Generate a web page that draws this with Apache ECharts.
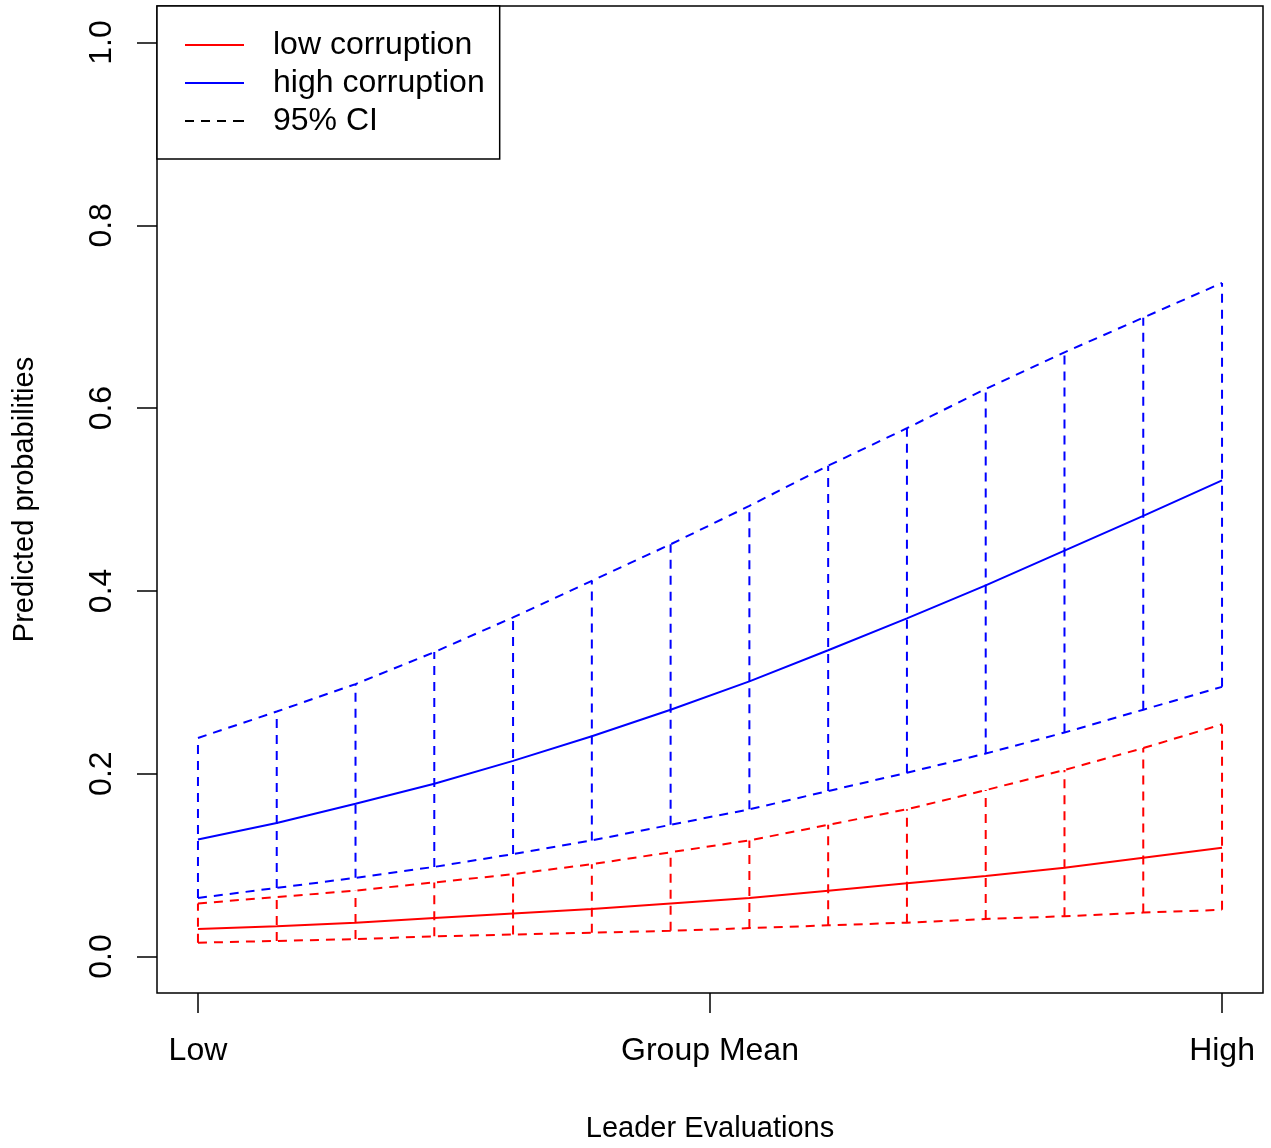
<!DOCTYPE html>
<html>
<head>
<meta charset="UTF-8">
<title>Predicted probabilities</title>
<style>
html,body{margin:0;padding:0;background:#fff;}
#main{width:1271px;height:1148px;}
</style>
</head>
<body>
<div id="main"></div>
<script src="https://cdn.jsdelivr.net/npm/echarts@6/dist/echarts.min.js"></script>
<script>
// x positions (Low .. High), tick labels
var xPos = [0,1,2,3,4,5,6,7,8,9,10,11,12,13];
var xTickVals = [0, 6.5, 13];
var xTickLabels = ['Low', 'Group Mean', 'High'];
var yTickVals = [0, 0.2, 0.4, 0.6, 0.8, 1.0];

// low corruption
var redMean  = [0.030,0.033,0.037,0.042,0.047,0.052,0.058,0.064,0.072,0.080,0.088,0.097,0.108,0.119];
var redUpper = [0.058,0.065,0.072,0.081,0.090,0.101,0.114,0.127,0.144,0.161,0.182,0.204,0.228,0.254];
var redLower = [0.015,0.017,0.019,0.022,0.024,0.026,0.028,0.031,0.034,0.037,0.041,0.044,0.048,0.051];

// high corruption
var blueMean  = [0.128,0.146,0.167,0.189,0.214,0.241,0.270,0.301,0.335,0.370,0.406,0.444,0.482,0.521];
var blueUpper = [0.239,0.268,0.298,0.333,0.371,0.411,0.451,0.493,0.537,0.578,0.621,0.661,0.699,0.737];
var blueLower = [0.064,0.075,0.086,0.098,0.112,0.127,0.144,0.161,0.181,0.201,0.222,0.245,0.270,0.295];

var FONT = "'Liberation Sans', Arial, Helvetica, sans-serif";
var DASH = [9, 7];

function pts(ys){
	return xPos.map(function(x, i){ return [x, ys[i]]; });
}
function bars(lo, hi){
	return xPos.map(function(x, i){ return [x, lo[i], hi[i]]; });
}

function lineSeries(name, ys, color, dashed){
	return {
		name: name,
		type: 'line',
		data: pts(ys),
		symbol: 'none',
		smooth: false,
		silent: true,
		lineStyle: {color: color, width: 2, type: dashed ? DASH : 'solid'},
		itemStyle: {color: color}
	};
}

// vertical dashed segments lower -> upper
function ciSeries(lo, hi, color){
	return {
		type: 'custom',
		silent: true,
		data: bars(lo, hi),
		encode: {x: 0, y: [1, 2]},
		renderItem: function(params, api){
			var p1 = api.coord([api.value(0), api.value(1)]);
			var p2 = api.coord([api.value(0), api.value(2)]);
			return {
				type: 'line',
				shape: {x1: p1[0], y1: p1[1], x2: p2[0], y2: p2[1]},
				style: {stroke: color, lineWidth: 2, lineDash: DASH, fill: null}
			};
		}
	};
}

var myChart = echarts.init(document.getElementById('main'));

myChart.setOption({
	animation: false,
	backgroundColor: '#fff',
	textStyle: {fontFamily: FONT, color: '#000'},
	grid: {
		left: 157, top: 6, right: 8, height: 991,
		show: true, borderColor: '#000', borderWidth: 1.5, backgroundColor: 'transparent'
	},
	legend: {
		left: 157, top: 6,
		orient: 'vertical',
		backgroundColor: '#fff',
		borderColor: '#000', borderWidth: 1.5, borderRadius: 0,
		padding: [20, 15, 19, 28],
		itemGap: 0,
		itemWidth: 59, itemHeight: 2,
		selectedMode: false,
		textStyle: {fontSize: 32, fontFamily: FONT, color: '#000', lineHeight: 38, padding: [0, 0, 0, 24]},
		data: [
			{name: 'low corruption', icon: 'path://M0 0h59v2h-59z'},
			{name: 'high corruption', icon: 'path://M0 0h59v2h-59z'},
			{name: '95% CI', icon: 'path://M0 0h9v2h-9z M16 0h9v2h-9z M32 0h9v2h-9z M48 0h11v2h-11z'}
		]
	},
	xAxis: {
		type: 'value',
		min: -0.52, max: 13.52,
		name: 'Leader Evaluations',
		nameLocation: 'middle',
		nameGap: 121,
		nameTextStyle: {fontSize: 29, fontFamily: FONT, color: '#000'},
		splitLine: {show: false},
		axisLine: {show: false, onZero: false},
		axisTick: {show: true, inside: false, length: 20, customValues: xTickVals, lineStyle: {color: '#000', width: 1.5}},
		axisLabel: {
			customValues: xTickVals,
			margin: 42,
			fontSize: 32, fontFamily: FONT, color: '#000',
			formatter: function(v){
				var i = xTickVals.indexOf(v);
				return i >= 0 ? xTickLabels[i] : '';
			}
		}
	},
	yAxis: {
		type: 'value',
		min: -0.04, max: 1.04,
		name: 'Predicted probabilities',
		nameLocation: 'middle',
		nameRotate: 90,
		nameGap: 118,
		nameTextStyle: {fontSize: 29, fontFamily: FONT, color: '#000'},
		splitLine: {show: false},
		axisLine: {show: false, onZero: false},
		axisTick: {show: true, inside: false, length: 20, customValues: yTickVals, lineStyle: {color: '#000', width: 1.5}},
		axisLabel: {
			customValues: yTickVals,
			rotate: 90,
			margin: 39,
			fontSize: 32, fontFamily: FONT, color: '#000',
			formatter: function(v){ return v.toFixed(1); }
		}
	},
	series: [
		lineSeries('low corruption', redMean, '#ff0000', false),
		lineSeries('high corruption', blueMean, '#0000ff', false),
		lineSeries(null, redUpper, '#ff0000', true),
		lineSeries(null, redLower, '#ff0000', true),
		lineSeries(null, blueUpper, '#0000ff', true),
		lineSeries(null, blueLower, '#0000ff', true),
		ciSeries(redLower, redUpper, '#ff0000'),
		ciSeries(blueLower, blueUpper, '#0000ff'),
		{name: '95% CI', type: 'line', data: [], symbol: 'none', lineStyle: {color: '#000', type: DASH}, itemStyle: {color: '#000'}}
	]
});
</script>
</body>
</html>
